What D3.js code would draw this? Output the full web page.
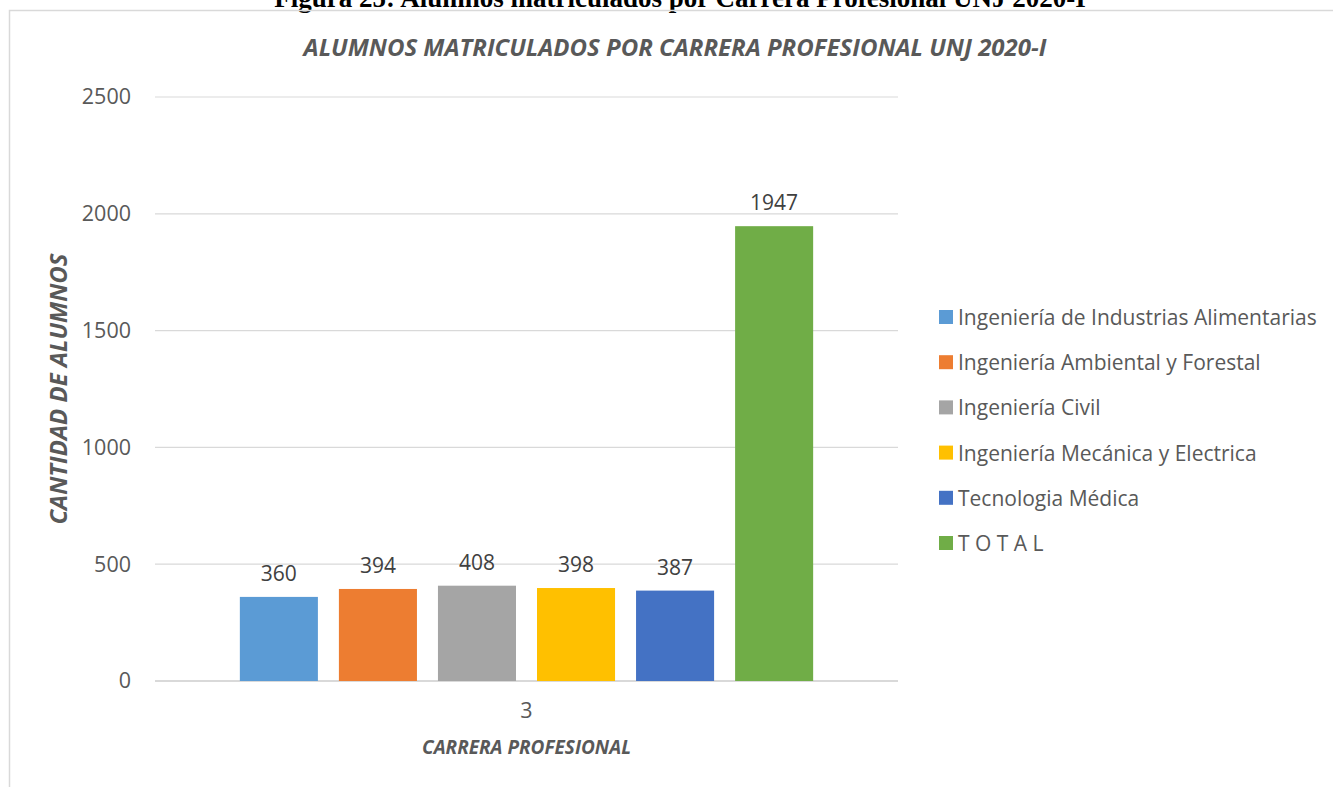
<!DOCTYPE html>
<html>
<head>
<meta charset="utf-8">
<script src="https://cdn.jsdelivr.net/npm/d3@7"></script>
<style>
body { margin: 0; background: #fff; }
text { font-family: "Open Sans", Lato, sans-serif; }
</style>
</head>
<body>
<script>
// datos del gráfico
var categories = ["3"];
var series = ["Ingeniería de Industrias Alimentarias", "Ingeniería Ambiental y Forestal", "Ingeniería Civil",
    "Ingeniería Mecánica y Electrica", "Tecnologia Médica", "T O T A L"];
var values = [360, 394, 408, 398, 387, 1947];
var colors = ["#5B9BD5", "#ED7D31", "#A5A5A5", "#FFC000", "#4472C4", "#70AD47"];
var yTicks = [0, 500, 1000, 1500, 2000, 2500];

var width = 1333, height = 787;
var plotLeft = 155, plotRight = 898, plotTop = 97, plotBottom = 681;

var svg = d3.select("body").append("svg")
    .attr("width", width)
    .attr("height", height);

// título de la figura (cortado arriba)
svg.append("text")
    .attr("x", 680).attr("y", 7)
    .attr("text-anchor", "middle")
    .style("font-family", "'Liberation Serif', serif")
    .style("font-weight", "bold")
    .style("font-size", "27px")
    .attr("fill", "#000")
    .text("Figura 25: Alumnos matriculados por Carrera Profesional UNJ 2020-I");

// marco del área del gráfico
svg.append("path")
    .attr("d", "M9.5 787 L9.5 10.5 L1333 10.5")
    .attr("fill", "none")
    .attr("stroke", "#d9d9d9")
    .attr("stroke-width", 1.5);

var y = d3.scaleLinear().domain([0, 2500]).range([plotBottom, plotTop]);
var x0 = d3.scaleBand().domain(categories).range([plotLeft, plotRight]).paddingInner(0).paddingOuter(0.148);
var x1 = d3.scaleBand().domain(series).range([0, x0.bandwidth()]).paddingInner(0.212).paddingOuter(0);

// líneas de cuadrícula
svg.append("g").selectAll("line")
    .data(yTicks).enter().append("line")
    .attr("x1", plotLeft).attr("x2", plotRight)
    .attr("y1", function(d) { return y(d); })
    .attr("y2", function(d) { return y(d); })
    .attr("stroke", "#d9d9d9")
    .attr("stroke-width", function(d) { return d == 0 ? 2 : 1.2; });

// eje y
var yAxis = svg.append("g")
    .attr("transform", "translate(" + plotLeft + ",0)")
    .call(d3.axisLeft(y).tickValues(yTicks).tickFormat(d3.format("d")).tickSize(0).tickPadding(24));
yAxis.select(".domain").remove();
yAxis.selectAll("text")
    .style("font-size", "21.5px")
    .attr("fill", "#595959");

// eje x
var xAxis = svg.append("g")
    .attr("transform", "translate(0," + plotBottom + ")")
    .call(d3.axisBottom(x0).tickSize(0).tickPadding(22));
xAxis.select(".domain").remove();
xAxis.selectAll("text")
    .style("font-size", "21.5px")
    .attr("fill", "#595959");

// barras
var group = svg.append("g")
    .attr("transform", "translate(" + x0(categories[0]) + ",0)");

group.selectAll("rect")
    .data(values).enter().append("rect")
    .attr("x", function(d, i) { return x1(series[i]); })
    .attr("y", function(d) { return y(d); })
    .attr("width", x1.bandwidth())
    .attr("height", function(d) { return y(0) - y(d); })
    .attr("fill", function(d, i) { return colors[i]; });

// etiquetas de datos
group.selectAll("text.lbl")
    .data(values).enter().append("text")
    .attr("class", "lbl")
    .attr("x", function(d, i) { return x1(series[i]) + x1.bandwidth() / 2; })
    .attr("y", function(d) { return y(d) - 16; })
    .attr("text-anchor", "middle")
    .style("font-size", "21px")
    .attr("fill", "#404040")
    .text(function(d) { return d; });

// títulos
svg.append("text")
    .attr("x", 675).attr("y", 56)
    .attr("text-anchor", "middle")
    .style("font-size", "24px")
    .style("font-weight", "bold")
    .style("font-style", "italic")
    .attr("fill", "#595959")
    .text("ALUMNOS MATRICULADOS POR CARRERA PROFESIONAL UNJ 2020-I");

svg.append("text")
    .attr("x", (plotLeft + plotRight) / 2).attr("y", 754)
    .attr("text-anchor", "middle")
    .style("font-size", "19px")
    .style("font-weight", "bold")
    .style("font-style", "italic")
    .attr("fill", "#595959")
    .text("CARRERA PROFESIONAL");

svg.append("text")
    .attr("transform", "translate(67,389) rotate(-90)")
    .attr("text-anchor", "middle")
    .style("font-size", "24px")
    .style("font-weight", "bold")
    .style("font-style", "italic")
    .attr("fill", "#595959")
    .text("CANTIDAD DE ALUMNOS");

// leyenda
var legend = svg.append("g").attr("transform", "translate(939,317)");
var item = legend.selectAll("g")
    .data(series).enter().append("g")
    .attr("transform", function(d, i) { return "translate(0," + (i * 45.2) + ")"; });
item.append("rect")
    .attr("x", 0).attr("y", -7)
    .attr("width", 14).attr("height", 14)
    .attr("fill", function(d, i) { return colors[i]; });
item.append("text")
    .attr("x", 19).attr("y", 8)
    .style("font-size", "21px")
    .attr("fill", "#595959")
    .text(function(d) { return d; });
</script>
</body>
</html>
